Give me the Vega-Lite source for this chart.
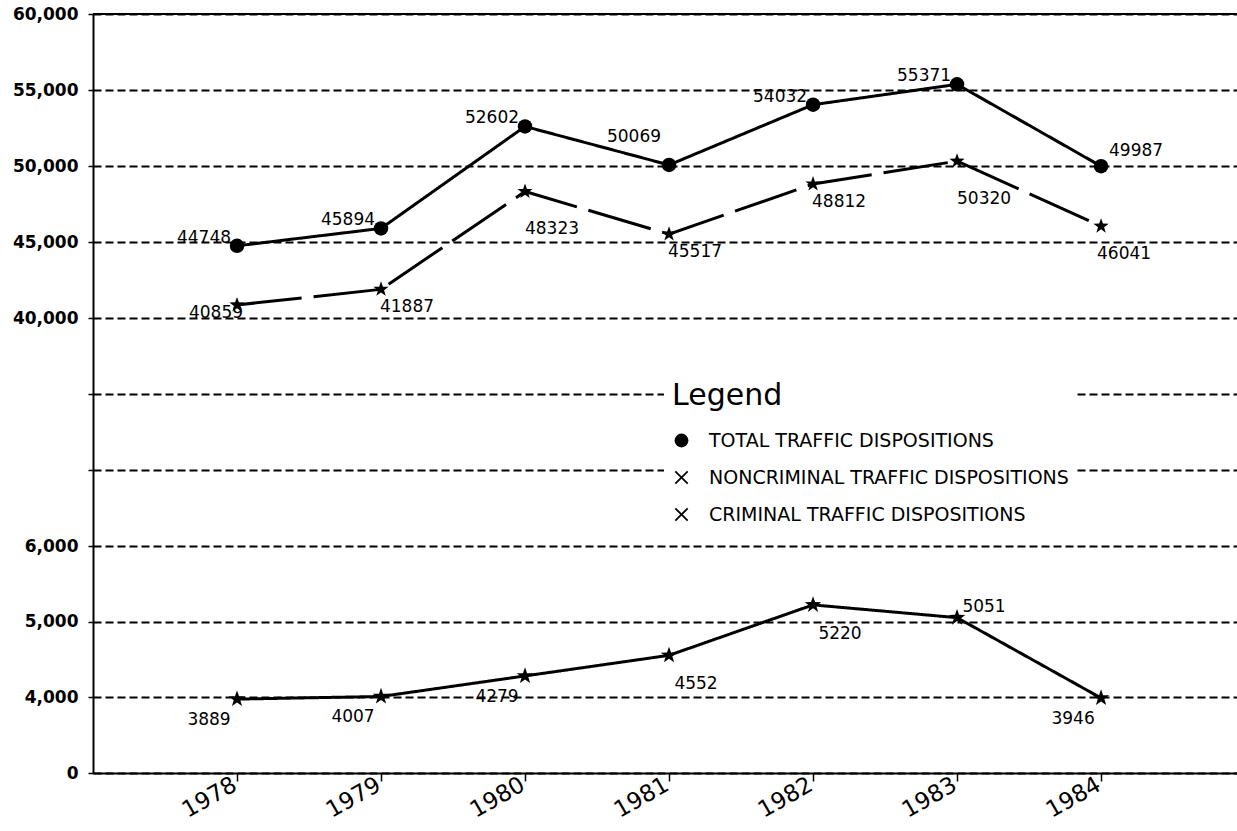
{
  "$schema": "https://vega.github.io/schema/vega-lite/v6.json",
  "autosize": {"type": "none"},
  "padding": {"left": 93, "top": 14, "right": 0, "bottom": 58},
  "width": 1144,
  "height": 759,
  "background": "white",
  "config": {
    "font": "DejaVu Sans",
    "view": {"stroke": null},
    "axis": {"labelColor": "black", "domainColor": "black", "tickColor": "black", "gridColor": "black"}
  },
  "data": {
    "values": [
      {"year": 1978, "series": "TOTAL TRAFFIC DISPOSITIONS", "value": 44748},
      {"year": 1979, "series": "TOTAL TRAFFIC DISPOSITIONS", "value": 45894},
      {"year": 1980, "series": "TOTAL TRAFFIC DISPOSITIONS", "value": 52602},
      {"year": 1981, "series": "TOTAL TRAFFIC DISPOSITIONS", "value": 50069},
      {"year": 1982, "series": "TOTAL TRAFFIC DISPOSITIONS", "value": 54032},
      {"year": 1983, "series": "TOTAL TRAFFIC DISPOSITIONS", "value": 55371},
      {"year": 1984, "series": "TOTAL TRAFFIC DISPOSITIONS", "value": 49987},
      {"year": 1978, "series": "NONCRIMINAL TRAFFIC DISPOSITIONS", "value": 40859},
      {"year": 1979, "series": "NONCRIMINAL TRAFFIC DISPOSITIONS", "value": 41887},
      {"year": 1980, "series": "NONCRIMINAL TRAFFIC DISPOSITIONS", "value": 48323},
      {"year": 1981, "series": "NONCRIMINAL TRAFFIC DISPOSITIONS", "value": 45517},
      {"year": 1982, "series": "NONCRIMINAL TRAFFIC DISPOSITIONS", "value": 48812},
      {"year": 1983, "series": "NONCRIMINAL TRAFFIC DISPOSITIONS", "value": 50320},
      {"year": 1984, "series": "NONCRIMINAL TRAFFIC DISPOSITIONS", "value": 46041},
      {"year": 1978, "series": "CRIMINAL TRAFFIC DISPOSITIONS", "value": 3889},
      {"year": 1979, "series": "CRIMINAL TRAFFIC DISPOSITIONS", "value": 4007},
      {"year": 1980, "series": "CRIMINAL TRAFFIC DISPOSITIONS", "value": 4279},
      {"year": 1981, "series": "CRIMINAL TRAFFIC DISPOSITIONS", "value": 4552},
      {"year": 1982, "series": "CRIMINAL TRAFFIC DISPOSITIONS", "value": 5220},
      {"year": 1983, "series": "CRIMINAL TRAFFIC DISPOSITIONS", "value": 5051},
      {"year": 1984, "series": "CRIMINAL TRAFFIC DISPOSITIONS", "value": 3946}
    ]
  },
  "resolve": {"scale": {"shape": "independent"}},
  "layer": [
    {
      "mark": {"type": "line", "color": "black"},
      "encoding": {
        "x": {
          "field": "year", "type": "quantitative",
          "scale": {"domain": [1977, 1984.944], "nice": false, "zero": false},
          "axis": {
            "title": null, "values": [1978, 1979, 1980, 1981, 1982, 1983, 1984], "format": "d",
            "grid": false, "labelAngle": -30, "labelAlign": "right", "labelBaseline": "top",
            "labelFontSize": 23, "labelPadding": -8, "labelOffset": -8, "tickSize": 8, "tickWidth": 1.5,
            "domainWidth": 2, "labelFlush": false, "labelOverlap": false
          }
        },
        "y": {
          "field": "value", "type": "quantitative",
          "scale": {"type": "linear", "domain": [0, 4000, 6000, 40000, 60000], "range": [759, 683, 532, 304, 0], "nice": false, "zero": false},
          "axis": {
            "title": null,
            "values": [0, 4000, 5000, 6000, 17333.333, 28666.667, 40000, 45000, 50000, 55000, 60000],
            "labelExpr": "datum.value > 7000 && datum.value < 39000 ? '' : format(datum.value, ',')",
            "labelFontSize": 17, "labelFontWeight": "bold", "labelPadding": 10,
            "tickSize": 5, "tickWidth": 1.5, "domainWidth": 2,
            "grid": true, "gridDash": [8, 4], "gridWidth": 1.8, "gridOpacity": 1,
            "labelOverlap": false
          }
        },
        "strokeDash": {
          "field": "series", "type": "nominal",
          "scale": {"domain": ["TOTAL TRAFFIC DISPOSITIONS", "NONCRIMINAL TRAFFIC DISPOSITIONS", "CRIMINAL TRAFFIC DISPOSITIONS"], "range": [[1, 0], [65, 12], [1, 0]]},
          "legend": null
        },
        "strokeWidth": {
          "field": "series", "type": "nominal",
          "scale": {"domain": ["TOTAL TRAFFIC DISPOSITIONS", "NONCRIMINAL TRAFFIC DISPOSITIONS", "CRIMINAL TRAFFIC DISPOSITIONS"], "range": [3, 3, 2]},
          "legend": null
        }
      }
    },
    {
      "data": {"values": [{"top": 60000}]},
      "mark": {"type": "rule", "color": "black", "strokeWidth": 2},
      "encoding": {"y": {"field": "top", "type": "quantitative"}}
    },
    {
      "mark": {"type": "point", "filled": true, "color": "black", "opacity": 1},
      "encoding": {
        "x": {"field": "year", "type": "quantitative"},
        "y": {"field": "value", "type": "quantitative"},
        "shape": {
          "field": "series", "type": "nominal",
          "scale": {"domain": ["TOTAL TRAFFIC DISPOSITIONS", "NONCRIMINAL TRAFFIC DISPOSITIONS", "CRIMINAL TRAFFIC DISPOSITIONS"],
            "range": ["circle", "M0,-1L0.235,-0.324L0.951,-0.309L0.38,0.124L0.588,0.809L0,0.4L-0.588,0.809L-0.38,0.124L-0.951,-0.309L-0.235,-0.324Z", "M0,-1L0.235,-0.324L0.951,-0.309L0.38,0.124L0.588,0.809L0,0.4L-0.588,0.809L-0.38,0.124L-0.951,-0.309L-0.235,-0.324Z"]},
          "legend": null
        },
        "size": {
          "field": "series", "type": "nominal",
          "scale": {"domain": ["TOTAL TRAFFIC DISPOSITIONS", "NONCRIMINAL TRAFFIC DISPOSITIONS", "CRIMINAL TRAFFIC DISPOSITIONS"], "range": [210, 300, 300]},
          "legend": null
        }
      }
    },
    {
      "mark": {"type": "point", "filled": true, "color": "black", "opacity": 0, "size": 190},
      "encoding": {
        "x": {"field": "year", "type": "quantitative"},
        "y": {"field": "value", "type": "quantitative"},
        "shape": {
          "field": "series", "type": "nominal",
          "scale": {"domain": ["TOTAL TRAFFIC DISPOSITIONS", "NONCRIMINAL TRAFFIC DISPOSITIONS", "CRIMINAL TRAFFIC DISPOSITIONS"],
            "range": ["circle", "M-0.81,-0.99L0.99,0.81L0.81,0.99L-0.99,-0.81ZM-0.99,0.81L0.81,-0.99L0.99,-0.81L-0.81,0.99Z", "M-0.81,-0.99L0.99,0.81L0.81,0.99L-0.99,-0.81ZM-0.99,0.81L0.81,-0.99L0.99,-0.81L-0.81,0.99Z"]},
          "legend": {
            "orient": "none", "legendX": 571, "legendY": 359,
            "title": "Legend", "titleFontSize": 30, "titleFontWeight": "normal", "titleColor": "black", "titlePadding": 20,
            "labelFontSize": 19, "labelColor": "black", "labelOffset": 18, "labelLimit": 600,
            "rowPadding": 17, "symbolSize": 190, "symbolOpacity": 1,
            "symbolFillColor": "black", "symbolStrokeWidth": 0,
            "fillColor": "white", "strokeColor": null, "padding": 8
          }
        }
      }
    },
    {
      "transform": [{"filter": {"and": [{"field": "series", "equal": "TOTAL TRAFFIC DISPOSITIONS"}, {"field": "year", "oneOf": [1978, 1979, 1980, 1982, 1983]}]}}],
      "mark": {"type": "text", "dx": -33, "dy": -8, "fontSize": 17, "color": "black"},
      "encoding": {"x": {"field": "year", "type": "quantitative"}, "y": {"field": "value", "type": "quantitative"}, "text": {"field": "value", "type": "quantitative", "format": "d"}}
    },
    {
      "transform": [{"filter": {"and": [{"field": "series", "equal": "TOTAL TRAFFIC DISPOSITIONS"}, {"field": "year", "oneOf": [1981]}]}}],
      "mark": {"type": "text", "dx": -35, "dy": -28, "fontSize": 17, "color": "black"},
      "encoding": {"x": {"field": "year", "type": "quantitative"}, "y": {"field": "value", "type": "quantitative"}, "text": {"field": "value", "type": "quantitative", "format": "d"}}
    },
    {
      "transform": [{"filter": {"and": [{"field": "series", "equal": "TOTAL TRAFFIC DISPOSITIONS"}, {"field": "year", "oneOf": [1984]}]}}],
      "mark": {"type": "text", "dx": 35, "dy": -15, "fontSize": 17, "color": "black"},
      "encoding": {"x": {"field": "year", "type": "quantitative"}, "y": {"field": "value", "type": "quantitative"}, "text": {"field": "value", "type": "quantitative", "format": "d"}}
    },
    {
      "transform": [{"filter": {"and": [{"field": "series", "equal": "NONCRIMINAL TRAFFIC DISPOSITIONS"}, {"field": "year", "oneOf": [1979, 1981, 1982]}]}}],
      "mark": {"type": "text", "dx": 26, "dy": 18, "fontSize": 17, "color": "black"},
      "encoding": {"x": {"field": "year", "type": "quantitative"}, "y": {"field": "value", "type": "quantitative"}, "text": {"field": "value", "type": "quantitative", "format": "d"}}
    },
    {
      "transform": [{"filter": {"and": [{"field": "series", "equal": "NONCRIMINAL TRAFFIC DISPOSITIONS"}, {"field": "year", "oneOf": [1980, 1983]}]}}],
      "mark": {"type": "text", "dx": 27, "dy": 38, "fontSize": 17, "color": "black"},
      "encoding": {"x": {"field": "year", "type": "quantitative"}, "y": {"field": "value", "type": "quantitative"}, "text": {"field": "value", "type": "quantitative", "format": "d"}}
    },
    {
      "transform": [{"filter": {"and": [{"field": "series", "equal": "NONCRIMINAL TRAFFIC DISPOSITIONS"}, {"field": "year", "oneOf": [1984]}]}}],
      "mark": {"type": "text", "dx": 23, "dy": 28, "fontSize": 17, "color": "black"},
      "encoding": {"x": {"field": "year", "type": "quantitative"}, "y": {"field": "value", "type": "quantitative"}, "text": {"field": "value", "type": "quantitative", "format": "d"}}
    },
    {
      "transform": [{"filter": {"and": [{"field": "series", "equal": "NONCRIMINAL TRAFFIC DISPOSITIONS"}, {"field": "year", "oneOf": [1978]}]}}],
      "mark": {"type": "text", "dx": -21, "dy": 8, "fontSize": 17, "color": "black"},
      "encoding": {"x": {"field": "year", "type": "quantitative"}, "y": {"field": "value", "type": "quantitative"}, "text": {"field": "value", "type": "quantitative", "format": "d"}}
    },
    {
      "transform": [{"filter": {"and": [{"field": "series", "equal": "CRIMINAL TRAFFIC DISPOSITIONS"}, {"field": "year", "oneOf": [1978, 1979, 1980, 1984]}]}}],
      "mark": {"type": "text", "dx": -28, "dy": 21, "fontSize": 17, "color": "black"},
      "encoding": {"x": {"field": "year", "type": "quantitative"}, "y": {"field": "value", "type": "quantitative"}, "text": {"field": "value", "type": "quantitative", "format": "d"}}
    },
    {
      "transform": [{"filter": {"and": [{"field": "series", "equal": "CRIMINAL TRAFFIC DISPOSITIONS"}, {"field": "year", "oneOf": [1981, 1982]}]}}],
      "mark": {"type": "text", "dx": 27, "dy": 29, "fontSize": 17, "color": "black"},
      "encoding": {"x": {"field": "year", "type": "quantitative"}, "y": {"field": "value", "type": "quantitative"}, "text": {"field": "value", "type": "quantitative", "format": "d"}}
    },
    {
      "transform": [{"filter": {"and": [{"field": "series", "equal": "CRIMINAL TRAFFIC DISPOSITIONS"}, {"field": "year", "oneOf": [1983]}]}}],
      "mark": {"type": "text", "dx": 27, "dy": -11, "fontSize": 17, "color": "black"},
      "encoding": {"x": {"field": "year", "type": "quantitative"}, "y": {"field": "value", "type": "quantitative"}, "text": {"field": "value", "type": "quantitative", "format": "d"}}
    }
  ]
}
